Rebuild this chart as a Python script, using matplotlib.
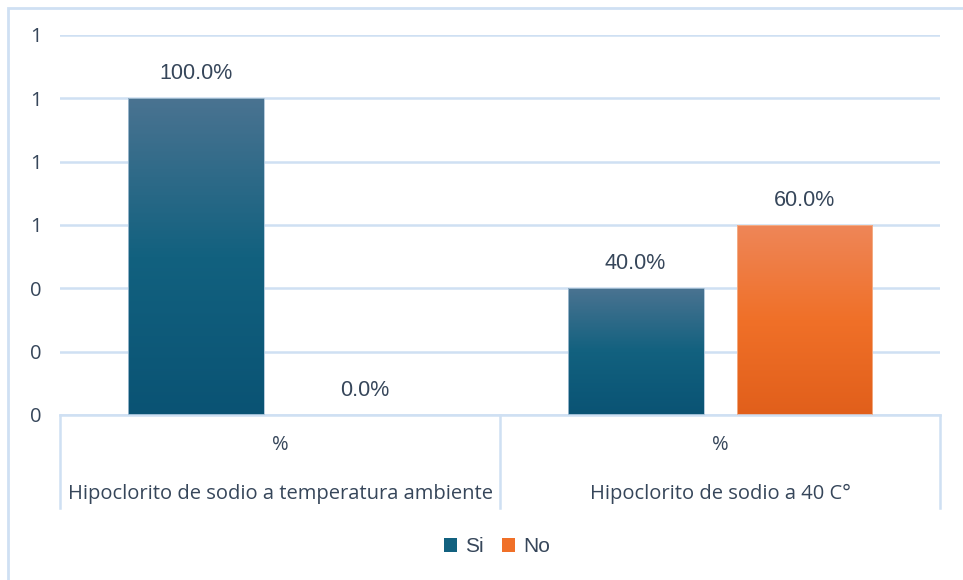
import numpy as np
import matplotlib.pyplot as plt
from matplotlib.colors import LinearSegmentedColormap
from matplotlib.patches import Rectangle, Patch
from matplotlib.lines import Line2D

plt.rcParams['font.family'] = ['Open Sans', 'DejaVu Sans']

groups = ['Hipoclorito de sodio a temperatura ambiente', 'Hipoclorito de sodio a 40 C°']
sub_label = '%'
series = ['Si', 'No']
si_vals = [1.0, 0.4]
no_vals = [0.0, 0.6]
yticks = [0, 0.2, 0.4, 0.6, 0.8, 1.0, 1.2]

text_col = '#36465a'
grid_col = '#cfe0f3'
si_grad = ['#4a7391', '#12617f', '#0a5374']
no_grad = ['#ee8658', '#f07028', '#e15f1b']
fs = 14.5
arial = ['Liberation Sans', 'DejaVu Sans']

fig = plt.figure(figsize=(9.63, 5.8), dpi=100)
ax = fig.add_axes([60 / 963, (580 - 415) / 580, 880 / 963, 380 / 580])

# chart area border
fig.patches.append(Rectangle((8 / 963, -0.05), 1.1, (576 - 8) / 580 + 0.05 + 4 / 580,
                             transform=fig.transFigure, fill=False,
                             edgecolor=grid_col, linewidth=2))

x = np.arange(len(groups)) + 0.5
off = 0.192
w = 0.309
bars_si = ax.bar(x - off, si_vals, w, color='none', edgecolor='#a9c2d6', linewidth=0.6, zorder=3)
bars_no = ax.bar(x + off, no_vals, w, color='none', edgecolor='#f3b48f', linewidth=0.6, zorder=3)

# vertical gradient fill for each bar, clipped to the bar shape
for bars, cols in [(bars_si, si_grad), (bars_no, no_grad)]:
    cmap = LinearSegmentedColormap.from_list('g', cols[::-1])
    for b in bars:
        h = b.get_height()
        if h <= 0:
            continue
        grad = np.linspace(0, 1, 256).reshape(-1, 1)
        im = ax.imshow(grad, cmap=cmap, aspect='auto', origin='lower',
                       extent=[b.get_x(), b.get_x() + b.get_width(), 0, h],
                       zorder=2)
        im.set_clip_path(b)

for bars, vals in [(bars_si, si_vals), (bars_no, no_vals)]:
    for b, v in zip(bars, vals):
        ax.annotate(f'{v * 100:.1f}%', (b.get_x() + b.get_width() / 2, v),
                    xytext=(0, 18), textcoords='offset points',
                    ha='center', va='center', fontsize=15.5, color=text_col,
                    family=arial)

ax.set_xlim(0, len(groups))
ax.set_ylim(0, 1.2)
ax.set_yticks(yticks)
ax.set_yticklabels([f'{t:.0f}' for t in yticks])
ax.tick_params(axis='y', length=0, pad=13, labelsize=fs, labelcolor=text_col)
ax.set_xticks([])
ax.grid(axis='y', color=grid_col, linewidth=1.8)
ax.set_axisbelow(True)
for s in ['top', 'right', 'left']:
    ax.spines[s].set_visible(False)
ax.spines['bottom'].set_color(grid_col)
ax.spines['bottom'].set_linewidth(1.8)

# two-level category axis
tr = ax.get_xaxis_transform()
for xb in range(len(groups) + 1):
    ax.add_line(Line2D([xb, xb], [0, -93 / 380], transform=tr, color=grid_col,
                       linewidth=1.8, clip_on=False))
for xc, g in zip(x, groups):
    ax.text(xc, -30 / 380, sub_label, transform=tr, ha='center', va='center',
            fontsize=fs, color=text_col)
    ax.text(xc, -79 / 380, g, transform=tr, ha='center', va='center',
            fontsize=fs, color=text_col)

handles = [Patch(facecolor=si_grad[1], edgecolor='none'),
           Patch(facecolor=no_grad[1], edgecolor='none')]
fig.legend(handles, series, loc='center', bbox_to_anchor=(497 / 963, 1 - 547 / 580),
           ncol=2, frameon=False, prop={'family': arial, 'size': 15},
           labelcolor=text_col, handlelength=0.62, handleheight=0.62,
           handletextpad=0.4, columnspacing=0.9)

fig.savefig('out.png', dpi=100)
